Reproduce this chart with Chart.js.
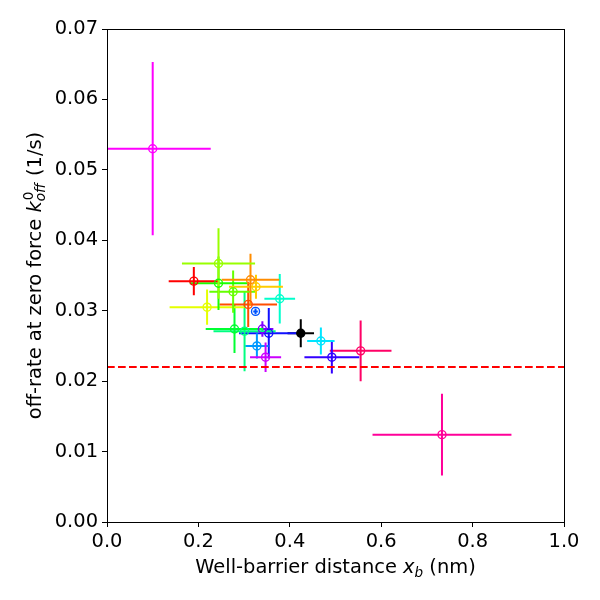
<!DOCTYPE html>
<html><head><meta charset="utf-8">
<script src="https://cdn.jsdelivr.net/npm/chart.js@4"></script>
<style>html,body{margin:0;padding:0;background:#fff}</style>
</head><body>
<canvas id="c" width="600" height="600" style="width:600px;height:600px;display:block"></canvas>
<script>
// Data (x_b in nm, k_off^0 in 1/s)
const xValues = [0.100, 0.733, 0.555, 0.492, 0.468, 0.424, 0.354, 0.340, 0.328, 0.347, 0.301, 0.279, 0.325, 0.219, 0.309, 0.378, 0.276, 0.326, 0.244, 0.314, 0.190, 0.244];
const yValues = [0.0530, 0.0124, 0.0243, 0.0234, 0.0257, 0.0268, 0.0268, 0.0274, 0.0250, 0.0234, 0.0271, 0.0274, 0.0299, 0.0305, 0.0309, 0.0317, 0.0327, 0.0334, 0.0339, 0.0344, 0.0342, 0.0367];
const xErrors = [0.127, 0.152, 0.0675, 0.060, 0.030, 0.029, 0.065, 0.024, 0.0255, 0.034, 0.068, 0.063, 0.005, 0.082, 0.063, 0.0336, 0.052, 0.059, 0.063, 0.063, 0.055, 0.080];
const yErrors = [0.0123, 0.0058, 0.0043, 0.0023, 0.0019, 0.0020, 0.0036, 0.0011, 0.0018, 0.0021, 0.0057, 0.0034, 0.0004, 0.0025, 0.0032, 0.0035, 0.0030, 0.0017, 0.0038, 0.0037, 0.0020, 0.0050];
const pointColors = ['#ff00ff', '#ff0099', '#ff0066', '#3300ff', '#00e5ff', '#000000', '#1010ff', '#8000ff', '#0099ff', '#cc00ff', '#00ff80', '#00ff33', '#0055ff', '#e5ff00', '#ff4d00', '#00ffcc', '#66ff00', '#ffcc00', '#1aff00', '#ff8c00', '#ff0000', '#99ff00'];
const filled = [false,false,false,false,false,true,false,false,false,false,false,false,false,false,false,false,false,false,false,false,false,false];
const refLevel = 0.022;
const xTicks = [0, 0.2, 0.4, 0.6, 0.8, 1.0];
const yTicks = [0, 0.01, 0.02, 0.03, 0.04, 0.05, 0.06, 0.07];

const FONT = "'DejaVu Sans', sans-serif";
const FS = 19.44, SS = 13.6;

const points = xValues.map((x, i) => ({x: x, y: yValues[i]}));

const errorBars = {
  id: 'errorBars',
  beforeDatasetsDraw(chart) {
    const ctx = chart.ctx, xs = chart.scales.x, ys = chart.scales.y, a = chart.chartArea;
    ctx.save();
    ctx.beginPath();
    ctx.rect(a.left, a.top, a.right - a.left, a.bottom - a.top);
    ctx.clip();
    ctx.lineWidth = 2;
    ctx.lineCap = 'butt';
    for (let i = 0; i < xValues.length; i++) {
      ctx.strokeStyle = pointColors[i];
      const px = xs.getPixelForValue(xValues[i]);
      const py = ys.getPixelForValue(yValues[i]);
      const x0 = xs.getPixelForValue(xValues[i] - xErrors[i]);
      const x1 = xs.getPixelForValue(xValues[i] + xErrors[i]);
      const y0 = ys.getPixelForValue(yValues[i] - yErrors[i]);
      const y1 = ys.getPixelForValue(yValues[i] + yErrors[i]);
      ctx.beginPath();
      ctx.moveTo(x0, py); ctx.lineTo(x1, py);
      ctx.moveTo(px, y0); ctx.lineTo(px, y1);
      ctx.stroke();
    }
    ctx.restore();
  }
};

const frameAndTitles = {
  id: 'frameAndTitles',
  afterDraw(chart) {
    const ctx = chart.ctx, a = chart.chartArea;
    ctx.save();
    ctx.strokeStyle = '#000';
    ctx.lineWidth = 1;
    ctx.strokeRect(Math.round(a.left) + 0.5, Math.round(a.top) + 0.5, Math.round(a.right - a.left), Math.round(a.bottom - a.top));
    ctx.fillStyle = '#000';
    ctx.textBaseline = 'alphabetic';
    ctx.textAlign = 'left';
    // X title
    const partsX = [
      {t: 'Well-barrier distance ', f: `${FS}px ${FONT}`, dy: 0},
      {t: 'x', f: `italic ${FS}px ${FONT}`, dy: 0},
      {t: 'b', f: `italic ${SS}px ${FONT}`, dy: 3.5},
      {t: ' (nm)', f: `${FS}px ${FONT}`, dy: 0}
    ];
    let w = 0;
    partsX.forEach(p => { ctx.font = p.f; p.w = ctx.measureText(p.t).width; w += p.w; });
    let cx = (a.left + a.right) / 2 - w / 2;
    partsX.forEach(p => { ctx.font = p.f; ctx.fillText(p.t, cx, 573 + p.dy); cx += p.w; });
    // Y title (rotated)
    ctx.translate(41, (a.top + a.bottom) / 2);
    ctx.rotate(-Math.PI / 2);
    ctx.font = `${FS}px ${FONT}`;
    const t1 = 'off-rate at zero force ', t3 = ' (1/s)';
    const w1 = ctx.measureText(t1).width, w3 = ctx.measureText(t3).width;
    ctx.font = `italic ${FS}px ${FONT}`;
    const wk = ctx.measureText('k').width;
    ctx.font = `${SS}px ${FONT}`;
    const wsup = ctx.measureText('0').width;
    ctx.font = `italic ${SS}px ${FONT}`;
    const wsub = ctx.measureText('off').width;
    const wss = Math.max(wsup, wsub) + 1;
    const total = w1 + wk + wss + w3;
    let yx = -total / 2;
    ctx.font = `${FS}px ${FONT}`;
    ctx.fillText(t1, yx, 0); yx += w1;
    ctx.font = `italic ${FS}px ${FONT}`;
    ctx.fillText('k', yx, 0); yx += wk + 1;
    ctx.font = `${SS}px ${FONT}`;
    ctx.fillText('0', yx, -8.5);
    ctx.font = `italic ${SS}px ${FONT}`;
    ctx.fillText('off', yx - 1, 4);
    yx += wss - 1;
    ctx.font = `${FS}px ${FONT}`;
    ctx.fillText(t3, yx, 0);
    ctx.restore();
  }
};

new Chart(document.getElementById('c'), {
  type: 'scatter',
  data: {
    datasets: [
      {
        type: 'line',
        data: [{x: 0, y: refLevel}, {x: 1, y: refLevel}],
        borderColor: '#ff0000',
        borderWidth: 2,
        borderDash: [7.7, 3.3],
        pointRadius: 0,
        fill: false,
        order: 2
      },
      {
        data: points,
        pointStyle: 'circle',
        pointRadius: 4,
        pointHoverRadius: 4,
        pointBorderWidth: 1.4,
        pointBorderColor: pointColors,
        pointBackgroundColor: pointColors.map((c, i) => filled[i] ? c : 'rgba(0,0,0,0)'),
        order: 1
      }
    ]
  },
  options: {
    responsive: false,
    animation: false,
    devicePixelRatio: 1,
    layout: {padding: {left: 0, top: 29, right: 36, bottom: 0}},
    plugins: {legend: {display: false}, tooltip: {enabled: false}},
    scales: {
      x: {
        type: 'linear', min: 0, max: 1,
        afterFit(s) { s.height = 78; },
        afterBuildTicks(s) { s.ticks = xTicks.map(v => ({value: v})); },
        grid: {display: true, drawOnChartArea: false, drawTicks: true, tickLength: 5, color: '#000', lineWidth: 1},
        border: {display: true, color: '#000', width: 1},
        ticks: {color: '#000', font: {family: FONT, size: FS}, padding: 3, maxRotation: 0,
          callback: v => v.toFixed(1)}
      },
      y: {
        type: 'linear', min: 0, max: 0.07,
        afterFit(s) { s.width = 107; },
        afterBuildTicks(s) { s.ticks = yTicks.map(v => ({value: v})); },
        grid: {display: true, drawOnChartArea: false, drawTicks: true, tickLength: 5, color: '#000', lineWidth: 1},
        border: {display: true, color: '#000', width: 1},
        ticks: {color: '#000', font: {family: FONT, size: FS}, padding: 4,
          callback: v => v.toFixed(2)}
      }
    }
  },
  plugins: [errorBars, frameAndTitles]
});
</script>
</body></html>
